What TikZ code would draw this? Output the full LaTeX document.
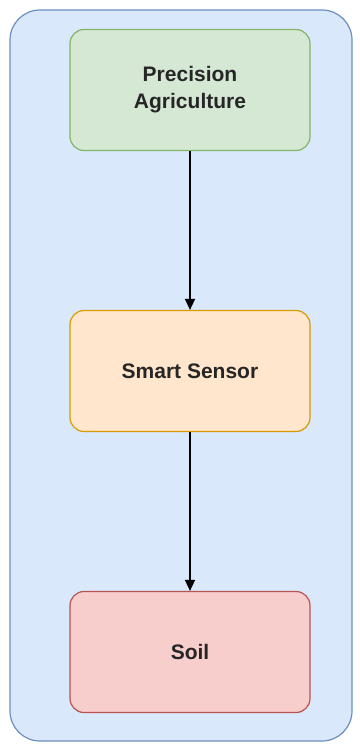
\documentclass[tikz,border=0pt]{standalone}
\usepackage{fontspec}
\setmainfont{Liberation Sans}
\usetikzlibrary{arrows.meta}
\definecolor{outerfill}{HTML}{DAE8FC}
\definecolor{outerline}{HTML}{6C8EBF}
\definecolor{greenfill}{HTML}{D5E8D4}
\definecolor{greenline}{HTML}{82B366}
\definecolor{orangefill}{HTML}{FFE6CC}
\definecolor{orangeline}{HTML}{D79B00}
\definecolor{redfill}{HTML}{F8CECC}
\definecolor{redline}{HTML}{B85450}
\tikzset{
  stagebox/.style={rounded corners=14pt, line width=1.2pt, minimum width=240pt,
    minimum height=121pt, align=center, text=black!85,
    font=\fontsize{21}{27}\selectfont\bfseries},
  flow/.style={line width=1.6pt, -{Triangle[length=11pt,width=10pt]}}
}
\begin{document}
\begin{tikzpicture}[x=1pt,y=-1pt]
  \useasboundingbox (0,0) rectangle (359,749);
  \fill[white] (0,0) rectangle (359,749);
  % enclosing panel
  \draw[fill=outerfill, draw=outerline, line width=1.2pt, rounded corners=30pt]
    (10,10) rectangle (352,741);
  % stages
  \node[stagebox, fill=greenfill, draw=greenline] (pa) at (190,90) {Precision\\Agriculture};
  \node[stagebox, fill=orangefill, draw=orangeline] (ss) at (190,371) {Smart Sensor};
  \node[stagebox, fill=redfill, draw=redline] (soil) at (190,652) {Soil};
  % connectors
  \draw[flow] (pa) -- (ss);
  \draw[flow] (ss) -- (soil);
\end{tikzpicture}
\end{document}
